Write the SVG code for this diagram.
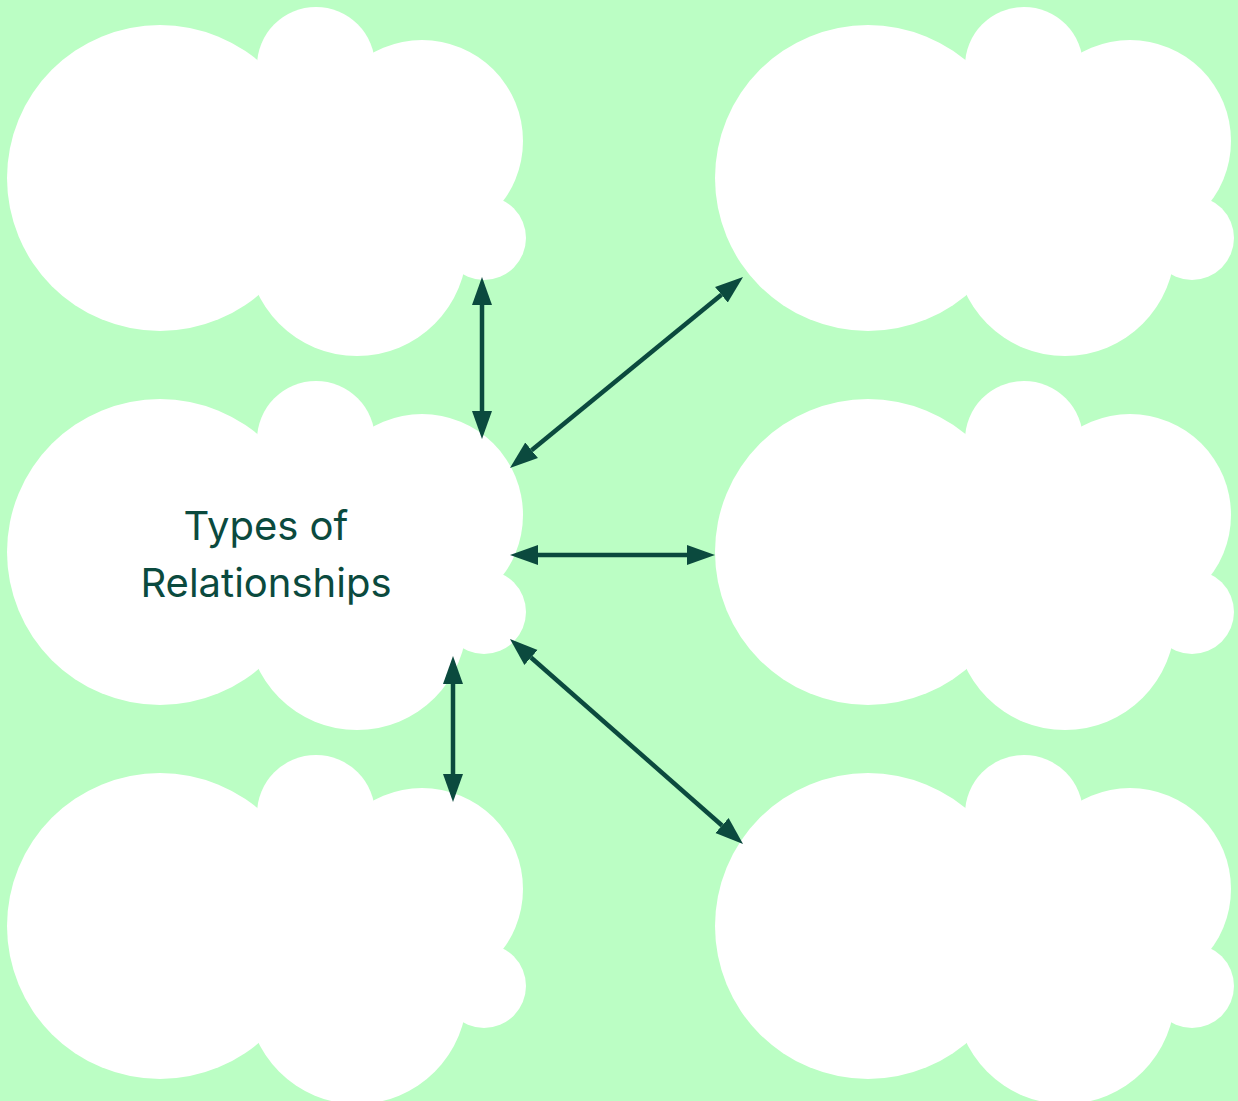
<svg xmlns="http://www.w3.org/2000/svg" xmlns:xlink="http://www.w3.org/1999/xlink" width="1238" height="1101" viewBox="0 0 1238 1101">
<style>
.cloud circle{fill:#ffffff}
.conn{stroke:#0b4a3e;stroke-width:4.5;fill:none}
.label{font-family:Inter,"Noto Sans","Liberation Sans",sans-serif;font-size:40px;fill:#0b4a3e;text-anchor:middle}
</style>
<defs>
<marker id="ah" markerUnits="userSpaceOnUse" markerWidth="30" markerHeight="22" viewBox="0 -11 30 22" refX="0" refY="0" orient="auto-start-reverse">
<path d="M0,-10 L28,0 L0,10 z" fill="#0b4a3e"/>
</marker>
<g id="cloudShape" class="cloud">
<circle cx="160" cy="178" r="153"/>
<circle cx="316" cy="66" r="59"/>
<circle cx="422" cy="141" r="101"/>
<circle cx="357" cy="246" r="110"/>
<circle cx="484" cy="238" r="42"/>
<circle cx="320" cy="170" r="100"/>
</g>
</defs>
<rect width="1238" height="1101" fill="#bbfec4"/>
<g id="cloud-top-left"><use xlink:href="#cloudShape"/></g>
<g id="cloud-top-right"><use xlink:href="#cloudShape" transform="translate(708,0)"/></g>
<g id="cloud-center"><use xlink:href="#cloudShape" transform="translate(0,374)"/>
<text class="label" x="266" y="540">Types of</text>
<text class="label" x="266" y="597">Relationships</text>
</g>
<g id="cloud-middle-right"><use xlink:href="#cloudShape" transform="translate(708,374)"/></g>
<g id="cloud-bottom-left"><use xlink:href="#cloudShape" transform="translate(0,748)"/></g>
<g id="cloud-bottom-right"><use xlink:href="#cloudShape" transform="translate(708,748)"/></g>
<g id="connectors">
<path class="conn" d="M482,305 L482,411" marker-start="url(#ah)" marker-end="url(#ah)"/>
<path class="conn" d="M531.6,450.2 L721.4,294.8" marker-start="url(#ah)" marker-end="url(#ah)"/>
<path class="conn" d="M538,555 L687,555" marker-start="url(#ah)" marker-end="url(#ah)"/>
<path class="conn" d="M531,657.5 L722,825.5" marker-start="url(#ah)" marker-end="url(#ah)"/>
<path class="conn" d="M453,684 L453,774" marker-start="url(#ah)" marker-end="url(#ah)"/>
</g>
</svg>
